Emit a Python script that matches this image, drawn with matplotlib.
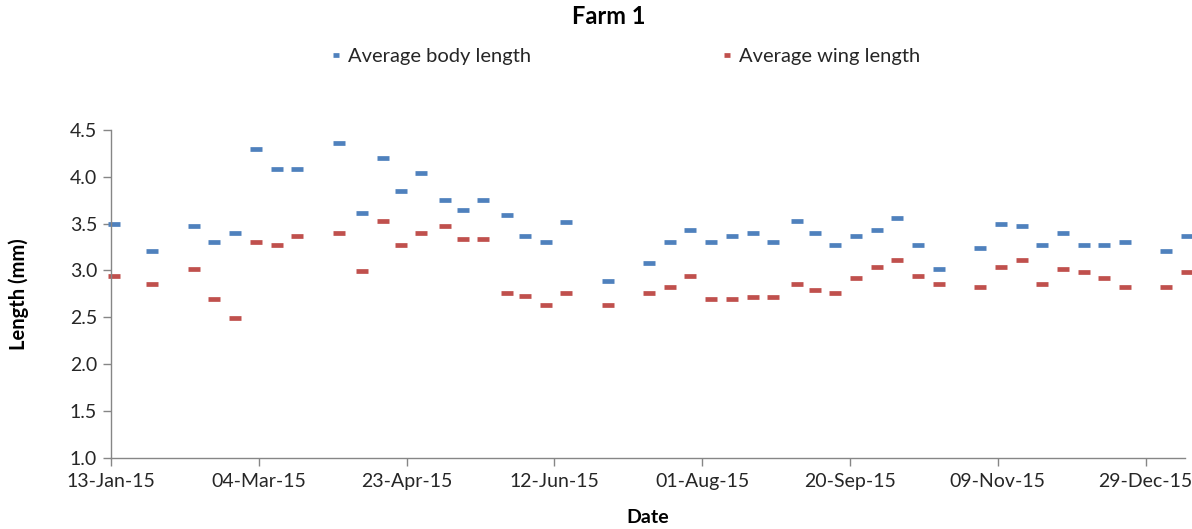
import numpy as np
import pandas as pd
import matplotlib as mpl
mpl.use('Agg')
import matplotlib.pyplot as plt
import matplotlib.dates as mdates

dates = ["2015-01-14", "2015-01-27", "2015-02-10", "2015-02-17", "2015-02-24",
         "2015-03-03", "2015-03-10", "2015-03-17", "2015-03-31", "2015-04-08",
         "2015-04-15", "2015-04-21", "2015-04-28", "2015-05-06", "2015-05-12",
         "2015-05-19", "2015-05-27", "2015-06-02", "2015-06-09", "2015-06-16",
         "2015-06-30", "2015-07-14", "2015-07-21", "2015-07-28", "2015-08-04",
         "2015-08-11", "2015-08-18", "2015-08-25", "2015-09-02", "2015-09-08",
         "2015-09-15", "2015-09-22", "2015-09-29", "2015-10-06", "2015-10-13",
         "2015-10-20", "2015-11-03", "2015-11-10", "2015-11-17", "2015-11-24",
         "2015-12-01", "2015-12-08", "2015-12-15", "2015-12-22", "2016-01-05",
         "2016-01-12"]
body = [3.50, 3.21, 3.47, 3.30, 3.40, 4.30, 4.08, 4.08, 4.36, 3.61,
        4.20, 3.85, 4.04, 3.75, 3.65, 3.75, 3.59, 3.37, 3.30, 3.52,
        2.89, 3.08, 3.30, 3.43, 3.30, 3.37, 3.40, 3.30, 3.53, 3.40,
        3.27, 3.37, 3.43, 3.56, 3.27, 3.01, 3.24, 3.50, 3.47, 3.27,
        3.40, 3.27, 3.27, 3.30, 3.21, 3.37]
wing = [2.94, 2.85, 3.01, 2.69, 2.49, 3.30, 3.27, 3.37, 3.40, 2.99,
        3.53, 3.27, 3.40, 3.47, 3.34, 3.34, 2.76, 2.73, 2.63, 2.76,
        2.63, 2.76, 2.82, 2.94, 2.69, 2.69, 2.72, 2.72, 2.85, 2.79,
        2.76, 2.92, 3.04, 3.11, 2.94, 2.85, 2.82, 3.04, 3.11, 2.85,
        3.01, 2.98, 2.92, 2.82, 2.82, 2.98]
tick_dates = ["2015-01-13", "2015-03-04", "2015-04-23", "2015-06-12",
              "2015-08-01", "2015-09-20", "2015-11-09", "2015-12-29"]

x = pd.to_datetime(dates)
ticks = pd.to_datetime(tick_dates)

mpl.rcParams['font.family'] = ['Lato', 'DejaVu Sans']
grey = '#868686'
text_col = '#262626'

fig = plt.figure(figsize=(11.92, 5.29), dpi=100)
ax = fig.add_axes([111/1192, 71.4/529, (1185-111)/1192, 327.6/529])

ax.plot(x, body, linestyle='none', marker='_', markersize=8, markeredgewidth=3.4,
        color='#4F81BD', label='Average body length', clip_on=False)
ax.plot(x, wing, linestyle='none', marker='_', markersize=8, markeredgewidth=3.4,
        color='#C0504D', label='Average wing length', clip_on=False)

ax.set_xlim(pd.Timestamp("2015-01-13"), pd.Timestamp("2015-01-13") + pd.Timedelta(days=363.3))
ax.set_ylim(1.0, 4.5)
ax.set_xticks(ticks)
ax.xaxis.set_major_formatter(mdates.DateFormatter('%d-%b-%y'))
ax.set_yticks(np.arange(1.0, 4.51, 0.5))
ax.yaxis.set_major_formatter(mpl.ticker.FormatStrFormatter('%.1f'))

for s in ['top', 'right']:
    ax.spines[s].set_visible(False)
for s in ['left', 'bottom']:
    ax.spines[s].set_color(grey)
    ax.spines[s].set_linewidth(1.0)
ax.tick_params(axis='both', colors=grey, labelcolor=text_col, labelsize=14, length=6, width=1)
ax.tick_params(axis='x', pad=5)
ax.tick_params(axis='y', pad=4)

ax.set_xlabel('Date', fontsize=14, fontweight='bold', color='black', labelpad=14)
ax.set_ylabel('Length (mm)', fontsize=14.5, fontweight='bold', color='black', labelpad=29)

fig.suptitle('Farm 1', x=0.511, y=0.99, fontsize=17, fontweight='bold', va='top')
fig.legend(loc='center', bbox_to_anchor=(0.5247, 0.893), ncol=2, frameon=False,
           fontsize=14.5, handlelength=0.5, handletextpad=0.35, columnspacing=9.5,
           markerscale=0.6, labelcolor=text_col)

plt.savefig('out.png', dpi=100)
